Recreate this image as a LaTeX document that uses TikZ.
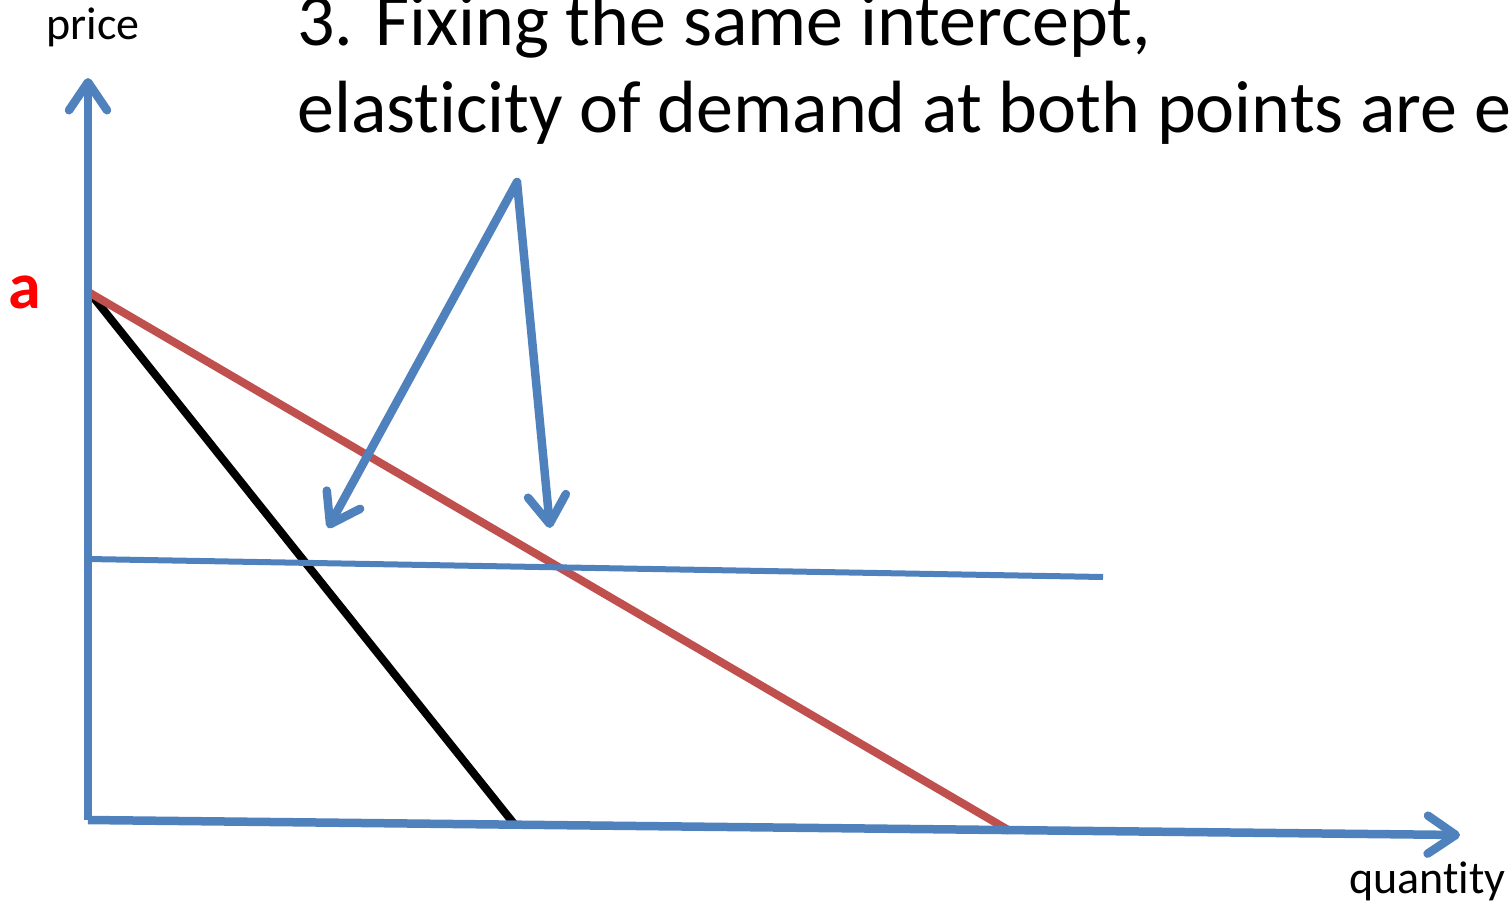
\documentclass[tikz,border=0pt]{standalone}
\usepackage{fontspec}
\setmainfont{Carlito}[Ligatures={NoCommon},RawFeature={-liga;-clig;-dlig;-calt}]
\usetikzlibrary{arrows.meta}
\definecolor{axisblue}{HTML}{4F81BD}
\definecolor{demred}{HTML}{C0504D}
\begin{document}
\begin{tikzpicture}[x=1pt,y=-1pt,
  barb/.style={-{Straight Barb[length=28pt,width=38pt,line cap=round,line join=round]}},
  axisline/.style={draw=axisblue,line width=8.5pt,barb},
  pointer/.style={draw=axisblue,line width=8.5pt,barb,line cap=round,line join=round},
  demand/.style={line width=8pt},
  lbl/.style={inner sep=0pt,font=\fontsize{46}{52}\selectfont},
  titletext/.style={inner sep=0pt,anchor=base west,font=\fontsize{74}{88}\selectfont}]
\useasboundingbox (0,0) rectangle (1511,904);
\clip (0,0) rectangle (1511,904);
% coordinates
\coordinate (O) at (88,820);
\coordinate (Ytop) at (88,78);
\coordinate (Xend) at (1460,835);
\coordinate (A) at (90,293);
\coordinate (Bq) at (515,825);
\coordinate (Rq) at (1010,831);
\coordinate (H1) at (88,559);
\coordinate (H2) at (1103,577);
\coordinate (apex) at (517,182);
\coordinate (tipL) at (328,528);
\coordinate (tipR) at (550,528);
% demand lines
\draw[demand,draw=black] (A) -- (Bq);
\draw[demand,draw=demred] (A) -- (Rq);
% horizontal price line
\draw[draw=axisblue,line width=6pt] (H1) -- (H2);
% axes
\draw[axisline] (O) -- (Ytop);
\draw[axisline] (O) -- (Xend);
% pointers
\draw[pointer] (apex) -- (tipL);
\draw[pointer] (apex) -- (tipR);
% labels
\node[lbl] (price) at (93,27) {price};
\node[lbl,anchor=base east] (qty) at (1506,893) {quantity};
\node[inner sep=0pt,text=red,font=\fontsize{66}{70}\selectfont\bfseries] (alab) at (25,292) {a};
\node[titletext] (t1) at (297,46) {3. Fixing the same intercept,};
\node[titletext] (t2) at (297,133) {elasticity of demand at both points are e};
\end{tikzpicture}
\end{document}
